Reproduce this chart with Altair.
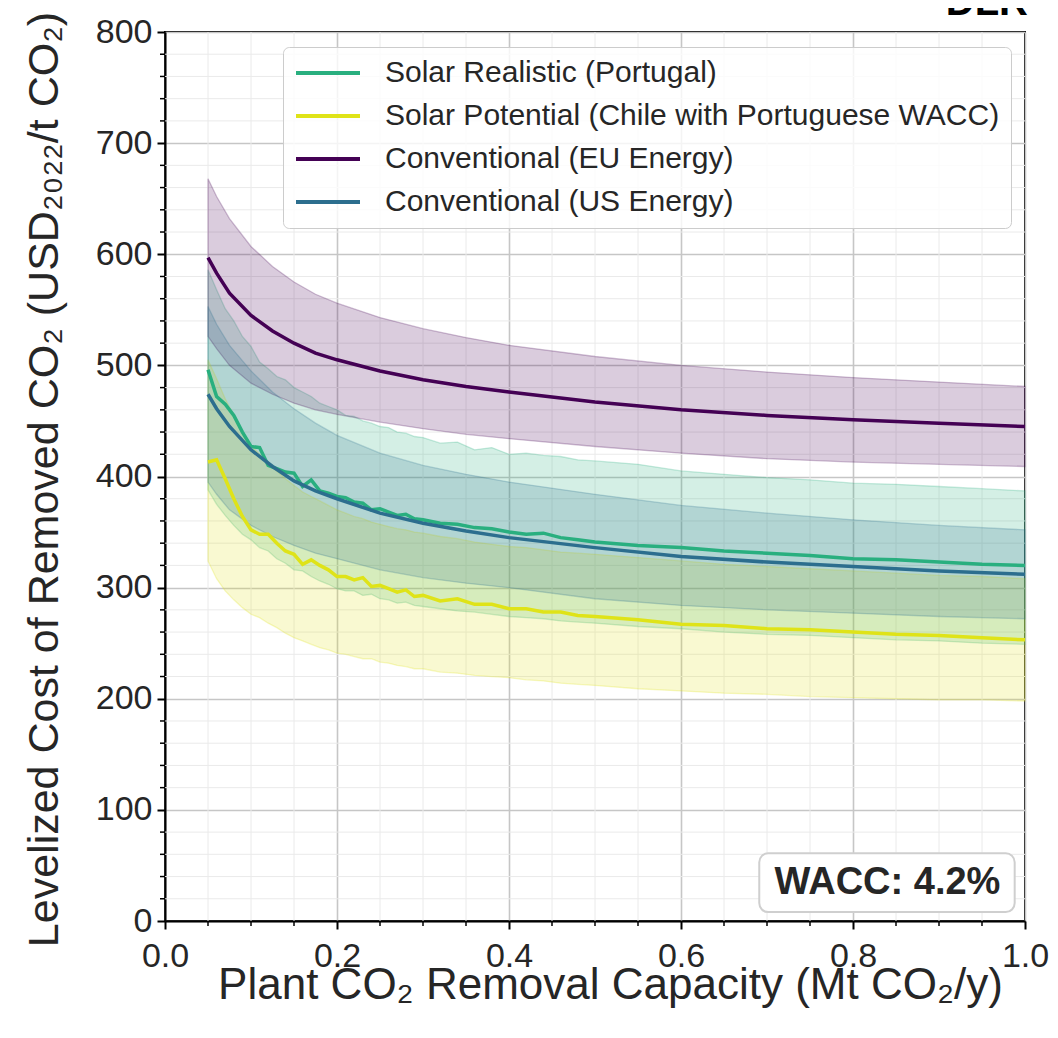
import altair as alt
import pandas as pd

FONT = "Liberation Sans"
TXT = "#262626"

S1 = "Solar Realistic (Portugal)"
S2 = "Solar Potential (Chile with Portuguese WACC)"
S3 = "Conventional (EU Energy)"
S4 = "Conventional (US Energy)"
series_names = [S1, S2, S3, S4]
series_colors = ["#29af7f", "#dfe318", "#440154", "#2c6e8e"]

# ---- smooth conventional curves
x_smooth = [0.05, 0.06, 0.075, 0.1, 0.125, 0.15, 0.175, 0.2, 0.25, 0.3, 0.35, 0.4, 0.5, 0.6, 0.7, 0.8, 0.9, 1.0]
eu_mid = [597, 583, 565, 545, 531, 520, 511, 505, 495, 487, 481, 476, 467, 460, 455, 451, 448, 445]
eu_hi = [668, 652, 632, 607, 589, 575, 564, 556, 543, 533, 525, 518, 508, 500, 494, 489, 485, 481]
eu_lo = [526, 515, 500, 484, 474, 466, 460, 456, 449, 443, 438, 434, 427, 421, 416, 413, 411, 409]
us_mid = [474, 461, 445, 424, 409, 396, 387, 380, 367, 358, 351, 345, 336, 328, 323, 319, 315, 312]
us_hi = [553, 537, 518, 495, 476, 461, 448, 437, 421, 410, 402, 395, 384, 374, 367, 361, 356, 352]
us_lo = [395, 384, 370, 356, 346, 338, 331, 326, 316, 309, 304, 300, 290, 284, 280, 277, 274, 272]

# ---- jagged solar curves
x_solar = [0.05, 0.06, 0.07, 0.08, 0.09, 0.10, 0.11, 0.12, 0.13, 0.14, 0.15, 0.16, 0.17, 0.18, 0.19,
           0.20, 0.21, 0.22, 0.23, 0.24, 0.25, 0.26, 0.27, 0.28, 0.29, 0.30, 0.32, 0.34, 0.36, 0.38,
           0.40, 0.42, 0.44, 0.46, 0.48, 0.50, 0.55, 0.60, 0.65, 0.70, 0.75, 0.80, 0.85, 0.90, 0.95, 1.00]
pt_mid = [496, 472, 465, 455, 440, 427, 426, 410, 407, 404, 403, 391, 397, 387, 385,
          382, 381, 377, 376, 370, 371, 368, 365, 366, 362, 361, 358, 357, 354, 353,
          350, 348, 349, 345, 343, 341, 338, 336, 333, 331, 329, 326, 325, 323, 321, 320]
pt_hi = [586, 568, 551, 540, 526, 517, 503, 497, 490, 487, 480, 476, 472, 466, 463,
         460, 455, 454, 450, 448, 445, 444, 440, 439, 436, 435, 430, 431, 424, 426,
         420, 421, 419, 418, 415, 414, 411, 405, 402, 399, 397, 394, 393, 391, 389, 387]
pt_lo = [388, 375, 365, 356, 348, 343, 336, 333, 326, 322, 316, 315, 310, 306, 303,
         299, 297, 297, 293, 294, 290, 289, 286, 287, 284, 283, 281, 279, 278, 276,
         274, 273, 272, 270, 269, 268, 265, 263, 260, 258, 257, 255, 253, 252, 250, 249]
cl_mid = [413, 415, 398, 380, 364, 352, 348, 348, 340, 333, 330, 321, 325, 320, 316,
          310, 310, 307, 309, 301, 302, 299, 296, 298, 292, 293, 288, 290, 285, 285,
          281, 281, 278, 278, 275, 274, 271, 267, 266, 263, 262, 260, 258, 257, 255, 253]
cl_hi = [505, 488, 470, 455, 440, 428, 420, 412, 405, 398, 392, 386, 382, 378, 374,
         370, 367, 364, 362, 359, 357, 355, 353, 352, 350, 349, 346, 344, 341, 339,
         337, 336, 334, 332, 331, 330, 327, 324, 321, 319, 317, 315, 313, 311, 310, 308]
cl_lo = [324, 308, 297, 289, 282, 276, 273, 268, 264, 259, 255, 252, 249, 246, 244,
         241, 240, 238, 236, 236, 233, 232, 230, 229, 227, 227, 224, 223, 221, 220,
         219, 217, 216, 214, 213, 212, 209, 207, 205, 204, 202, 201, 200, 199, 199, 198]

minor_x = [0.05, 0.1, 0.15, 0.25, 0.3, 0.35, 0.45, 0.5, 0.55, 0.65, 0.7, 0.75, 0.85, 0.9, 0.95]
minor_y = [v for v in range(20, 800, 20) if v % 100 != 0]
major_x = [0.0, 0.2, 0.4, 0.6, 0.8, 1.0]
major_y = [0, 100, 200, 300, 400, 500, 600, 700, 800]


def frame(name, xs, mid, lo, hi):
    return pd.DataFrame({"x": xs, "mid": mid, "lo": lo, "hi": hi, "series": name})


df = pd.concat([
    frame(S1, x_solar, pt_mid, pt_lo, pt_hi),
    frame(S2, x_solar, cl_mid, cl_lo, cl_hi),
    frame(S3, x_smooth, eu_mid, eu_lo, eu_hi),
    frame(S4, x_smooth, us_mid, us_lo, us_hi),
], ignore_index=True)

W, H = 860, 889
X_TITLE = "Plant CO₂ Removal Capacity (Mt CO₂/y)"
Y_TITLE = "Levelized Cost of Removed CO₂ (USD₂₀₂₂/t CO₂)"

xscale = alt.Scale(domain=[0, 1], nice=False, zero=False)
yscale = alt.Scale(domain=[0, 800], nice=False)

xaxis = alt.Axis(values=major_x, format=".1f", grid=True, gridColor="#c6c6c6", gridWidth=1.6,
                 tickSize=8, tickWidth=2, tickColor="black", domainColor="black", domainWidth=2,
                 labelFontSize=34, labelFont=FONT, labelColor=TXT, labelFlush=False,
                 labelOverlap=False, labelPadding=37, labelBaseline="alphabetic",
                 titleFontSize=44, titleFont=FONT, titleColor=TXT, titleFontWeight="normal",
                 titleX=445, titleY=77, titleBaseline="alphabetic", titleAlign="center")
yaxis = alt.Axis(values=major_y, format="d", grid=True, gridColor="#c6c6c6", gridWidth=1.6,
                 tickSize=8, tickWidth=2, tickColor="black", domainColor="black", domainWidth=2,
                 labelFontSize=34, labelFont=FONT, labelColor=TXT, labelPadding=5,
                 labelOverlap=False, labelFlush=False,
                 titleFontSize=43, titleFont=FONT, titleColor=TXT, titleFontWeight="normal",
                 titleX=-108, titleY=447, titleAngle=-90, titleBaseline="alphabetic",
                 titleAlign="center")


def X(field):
    return alt.X(field, type="quantitative", scale=xscale, axis=xaxis, title=X_TITLE)


def Y(field):
    return alt.Y(field, type="quantitative", scale=yscale, axis=yaxis, title=Y_TITLE)


dmx = pd.DataFrame({"x": minor_x})
dmy = pd.DataFrame({"mid": minor_y})

minor_grid_x = alt.Chart(dmx).mark_rule(color="#eaeaea", strokeWidth=1).encode(x=X("x"))
minor_grid_y = alt.Chart(dmy).mark_rule(color="#eaeaea", strokeWidth=1).encode(y=Y("mid"))
minor_tick_x = alt.Chart(dmx).mark_rule(color="black", strokeWidth=1.5).encode(
    x=X("x"), y=alt.value(H), y2=alt.value(H + 5))
minor_tick_y = alt.Chart(dmy).mark_rule(color="black", strokeWidth=1.5).encode(
    y=Y("mid"), x=alt.value(-5), x2=alt.value(0))

band_layers = []
for name, col in zip(series_names, series_colors):
    band_layers.append(
        alt.Chart(df).transform_filter(alt.FieldEqualPredicate(field="series", equal=name))
        .mark_area(fill=col, stroke=col, fillOpacity=0.2, strokeOpacity=0.25, strokeWidth=1.3)
        .encode(x=X("x"), y=Y("lo"), y2="hi")
    )

lines = alt.Chart(df).mark_line(strokeWidth=3.5).encode(
    x=X("x"), y=Y("mid"),
    color=alt.Color("series:N", scale=alt.Scale(domain=series_names, range=series_colors),
                    legend=alt.Legend(orient="none", legendX=118, legendY=15, title=None,
                                      symbolType="stroke", symbolSize=4096, symbolStrokeWidth=4,
                                      symbolOpacity=1, clipHeight=30,
                                      labelFontSize=30, labelFont=FONT, labelColor=TXT,
                                      labelOffset=23, rowPadding=13, padding=11, labelLimit=1000,
                                      fillColor="rgba(255,255,255,0.8)", strokeColor="#cccccc",
                                      cornerRadius=6)),
)

one = pd.DataFrame({"a": [0]})
wacc_box = alt.Chart(one).mark_rect(fill="white", stroke="#cfcfcf", strokeWidth=2, cornerRadius=9).encode(
    x=alt.XDatum(0.691, scale=xscale), x2=alt.X2Datum(0.988),
    y=alt.YDatum(61, scale=yscale), y2=alt.Y2Datum(8))
wacc_text = alt.Chart(one).mark_text(text="WACC: 4.2%", fontSize=38, fontWeight="bold", font=FONT,
                                     color=TXT, align="center", baseline="middle").encode(
    x=alt.XDatum(0.84, scale=xscale), y=alt.YDatum(34, scale=yscale))

logo = alt.Chart(one).mark_text(text="DLR", fontSize=40, fontWeight="bold", font=FONT, color="black",
                                align="right", baseline="alphabetic").encode(
    x=alt.value(863), y=alt.value(-17))

chart = alt.layer(
    minor_grid_x, minor_grid_y, *band_layers, lines, minor_tick_x, minor_tick_y, wacc_box, wacc_text, logo
).properties(
    width=W, height=H,
    autosize=alt.AutoSizeParams(type="none"),
    padding={"left": 157, "top": 24, "right": 25, "bottom": 100},
    background="white",
).configure_view(stroke="black", strokeWidth=2)

chart.save("out.html", embed_options={"renderer": "svg", "actions": False})
